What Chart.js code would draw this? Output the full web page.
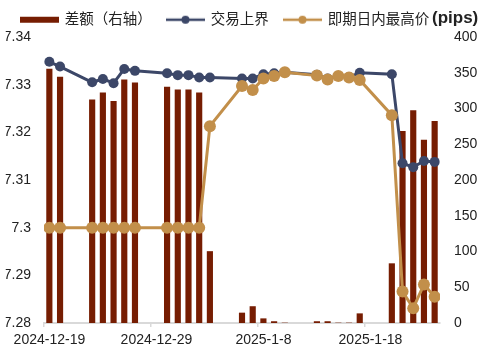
<!DOCTYPE html>
<html>
<head>
<meta charset="utf-8">
<script src="https://cdn.jsdelivr.net/npm/chart.js@4.4.1/dist/chart.umd.min.js"></script>
<style>
  html, body { margin: 0; padding: 0; background: #fff; }
  #wrap { width: 485px; height: 354px; position: relative; }
</style>
</head>
<body>
<div id="wrap"><canvas id="spreadChart"></canvas></div>
<script>
// trading days
const dates = ['2024-12-19','2024-12-20','2024-12-23','2024-12-24','2024-12-25','2024-12-26','2024-12-27',
  '2024-12-30','2024-12-31','2025-01-01','2025-01-02','2025-01-03','2025-01-06','2025-01-07','2025-01-08',
  '2025-01-09','2025-01-10','2025-01-13','2025-01-14','2025-01-15','2025-01-16','2025-01-17','2025-01-20',
  '2025-01-21','2025-01-22','2025-01-23','2025-01-24'];
// 差额 (pips, right axis)
const spreadPips = [355, 344, 312, 322, 310, 340, 336, 330, 326, 326, 322, 100, 14, 23, 6,
  2, 0, 2, 2, 0, 0, 13, 83, 268, 297, 256, 282];
// 交易上界
const upperBound = [7.3348, 7.3338, 7.3305, 7.3312, 7.3303, 7.3333, 7.3329, 7.3324, 7.3320, 7.3320, 7.3315, 7.3315, 7.3313, 7.3313, 7.3322,
  7.3324, 7.3326, 7.3321, 7.3313, 7.3318, 7.3316, 7.3325, 7.3322, 7.3135, 7.3127, 7.3140, 7.3138];
// 即期日内最高价
const intradayHigh = [7.3000, 7.3000, 7.3000, 7.3000, 7.3000, 7.3000, 7.3000, 7.3000, 7.3000, 7.3000, 7.3000, 7.3213, 7.3297, 7.3289, 7.3313,
  7.3318, 7.3326, 7.3319, 7.3311, 7.3318, 7.3315, 7.3310, 7.3236, 7.2866, 7.2831, 7.2881, 7.2855];
const xTickLabels = ['2024-12-19', '2024-12-29', '2025-1-8', '2025-1-18'];
const seriesNames = ['差额（右轴）', '交易上界', '即期日内最高价'];

const barColor = '#761d02';
const blueColor = '#3c4768';
const goldColor = '#c28f4a';

// x = days since 2024-12-19, centred in the day slot
const startDay = Date.UTC(2024, 11, 19);
function dayPos(s) {
  const [y, m, d] = s.split('-').map(Number);
  return (Date.UTC(y, m - 1, d) - startDay) / 86400000 + 0.5;
}
const xs = dates.map(dayPos);
const pts = arr => arr.map((v, i) => ({ x: xs[i], y: v }));

function legendIcon(color, isBar) {
  const c = document.createElement('canvas');
  c.width = 39; c.height = 12;
  const g = c.getContext('2d');
  g.fillStyle = color;
  g.strokeStyle = color;
  if (isBar) {
    g.fillRect(0, 3, 39, 6);
  } else {
    g.lineWidth = 2.5;
    g.beginPath(); g.moveTo(0, 6); g.lineTo(39, 6); g.stroke();
    g.beginPath(); g.arc(19.5, 6, 4, 0, Math.PI * 2); g.fill();
  }
  return c;
}
const icons = [legendIcon(barColor, true), legendIcon(blueColor), legendIcon(goldColor)];

Chart.defaults.font.family = "'Liberation Sans', 'Noto Sans CJK SC', sans-serif";
Chart.defaults.color = '#222';

const pipsLabel = {
  id: 'pipsLabel',
  afterDraw(chart) {
    const ctx = chart.ctx;
    ctx.save();
    ctx.font = "bold 17px 'Liberation Sans'";
    ctx.fillStyle = '#222';
    ctx.textBaseline = 'middle';
    ctx.fillText('(pips)', 432, 18.5);
    ctx.restore();
  }
};

new Chart(document.getElementById('spreadChart'), {
  type: 'bar',
  data: {
    datasets: [{
      label: seriesNames[0],
      data: pts(spreadPips),
      yAxisID: 'y1',
      backgroundColor: barColor,
      barThickness: 5.5,
      order: 3
    }, {
      type: 'line',
      label: seriesNames[1],
      data: pts(upperBound),
      yAxisID: 'y',
      borderColor: blueColor,
      backgroundColor: blueColor,
      borderWidth: 3,
      pointRadius: 5,
      pointBorderWidth: 0,
      order: 2
    }, {
      type: 'line',
      label: seriesNames[2],
      data: pts(intradayHigh),
      yAxisID: 'y',
      borderColor: goldColor,
      backgroundColor: goldColor,
      borderWidth: 3,
      pointRadius: 6,
      pointBorderWidth: 0,
      order: 1
    }]
  },
  options: {
    responsive: true,
    maintainAspectRatio: false,
    animation: false,
    layout: { padding: { left: 5.75, right: 0, top: -3.25, bottom: 0 } },
    plugins: {
      tooltip: { enabled: false },
      legend: {
        align: 'start',
        labels: {
          font: { size: 14.5 },
          padding: 15.75,
          usePointStyle: true,
          pointStyleWidth: 36,
          sort: (a, b) => a.datasetIndex - b.datasetIndex,
          generateLabels(chart) {
            const items = Chart.defaults.plugins.legend.labels.generateLabels(chart);
            items.forEach(it => { it.pointStyle = icons[it.datasetIndex]; });
            return items;
          }
        }
      }
    },
    scales: {
      x: {
        type: 'linear',
        offset: false,
        min: 0,
        max: 37,
        afterBuildTicks(scale) {
          scale.ticks = xTickLabels.map((t, i) => ({ value: i * 10 }));
        },
        afterFit(scale) { scale.height = 31; },
        ticks: {
          font: { size: 14 },
          padding: 5,
          labelOffset: 5.4,
          maxRotation: 0,
          callback: (v, i) => xTickLabels[i]
        },
        grid: { display: true, offset: false, drawOnChartArea: false, drawTicks: true, tickLength: 4, color: '#d9d9d9', lineWidth: 1.5 },
        border: { color: '#d9d9d9', width: 2 }
      },
      y: {
        position: 'left',
        min: 7.28,
        max: 7.34,
        afterFit(scale) { scale.width = 38.25; },
        ticks: {
          stepSize: 0.01,
          font: { size: 14 },
          padding: 13,
          callback: v => String(Number(v.toFixed(2)))
        },
        grid: { display: false, drawTicks: false },
        border: { display: false }
      },
      y1: {
        position: 'right',
        min: 0,
        max: 400,
        afterFit(scale) { scale.width = 45; },
        ticks: { stepSize: 50, font: { size: 14 }, padding: 14 },
        grid: { display: false, drawTicks: false },
        border: { display: false }
      }
    }
  },
  plugins: [pipsLabel]
});
</script>
</body>
</html>
